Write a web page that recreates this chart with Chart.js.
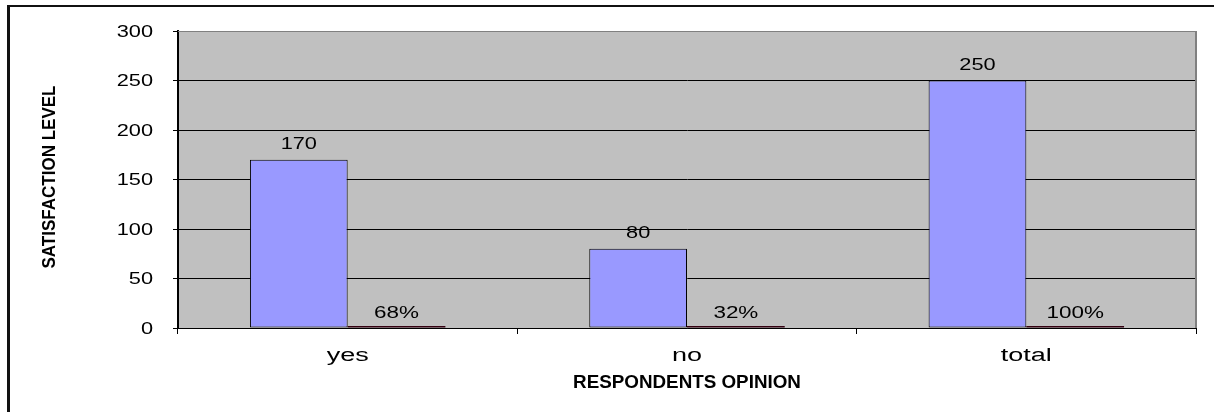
<!DOCTYPE html>
<html>
<head>
<meta charset="utf-8">
<script src="https://cdn.jsdelivr.net/npm/chart.js@4"></script>
<style>
  html, body { margin: 0; padding: 0; background: #fff; }
  #frame { position: absolute; left: 7px; top: 5px; width: 1220px; height: 420px;
           border-top: 2px solid #111; border-left: 3px solid #111; }
  #chart { position: absolute; left: 0; top: 0; }
</style>
</head>
<body>
<div id="frame"></div>
<canvas id="chart" width="1214" height="412"></canvas>
<script>
/* ========= DATA ========= */
const categories = ['yes', 'no', 'total'];
const respondents = [170, 80, 250];
const shares = [0.68, 0.32, 1.00];          // drawn on same axis, shown as %
const yTicks = [0, 50, 100, 150, 200, 250, 300];
const xTitle = 'RESPONDENTS OPINION';
const yTitle = 'SATISFACTION LEVEL';

/* ========= HELPERS ========= */
const FONT = '"Liberation Sans", Arial, sans-serif';
const pct = v => Math.round(v * 100) + '%';

// Excel-ish wide text: draw then stretch horizontally
function wideText(ctx, txt, x, y, font, sx, align) {
  ctx.save();
  ctx.font = font;
  ctx.fillStyle = '#000';
  ctx.textBaseline = 'middle';
  ctx.textAlign = align || 'center';
  ctx.translate(x, y);
  ctx.scale(sx, 1);
  ctx.fillText(txt, 0, 0);
  ctx.restore();
}

/* ========= PLUGINS ========= */
const plotBg = {
  id: 'plotBg',
  beforeDraw(chart) {
    const { ctx, chartArea: a } = chart;
    ctx.save();
    ctx.fillStyle = '#C0C0C0';
    ctx.fillRect(a.left, a.top, a.right - a.left, a.bottom - a.top);
    ctx.restore();
  },
  afterDatasetsDraw(chart) {
    const { ctx, chartArea: a } = chart;
    ctx.save();
    ctx.strokeStyle = '#808080';
    ctx.lineWidth = 1;
    ctx.beginPath();
    ctx.moveTo(a.left, a.top + 0.5);
    ctx.lineTo(a.right, a.top + 0.5);
    ctx.stroke();
    ctx.lineWidth = 2;
    ctx.beginPath();
    ctx.moveTo(a.right, a.top);
    ctx.lineTo(a.right, a.bottom);
    ctx.stroke();
    ctx.restore();
  }
};

const labels = {
  id: 'labels',
  afterDraw(chart) {
    const { ctx, chartArea: a, scales } = chart;
    const regular = '17px ' + FONT;

    // y tick labels
    yTicks.forEach(v => {
      wideText(ctx, String(v), 153, scales.y.getPixelForValue(v) + 1, regular, 1.28, 'right');
    });

    // category labels
    categories.forEach((c, i) => {
      wideText(ctx, c, scales.x.getPixelForValue(i), 356, '18px ' + FONT, 1.5, 'center');
    });

    // value labels above bars
    chart.getDatasetMeta(0).data.forEach((el, i) => {
      wideText(ctx, String(respondents[i]), el.x, el.y - 15, regular, 1.28, 'center');
    });
    chart.getDatasetMeta(1).data.forEach((el, i) => {
      wideText(ctx, pct(shares[i]), el.x, el.y - 13, regular, 1.32, 'center');
    });

    // x title
    wideText(ctx, xTitle, (a.left + a.right) / 2, 383, 'bold 19px ' + FONT, 0.99, 'center');

    // y title, squeezed along its length
    ctx.save();
    ctx.font = 'bold 22px ' + FONT;
    const w = ctx.measureText(yTitle).width;
    ctx.translate(50, 177);
    ctx.rotate(-Math.PI / 2);
    ctx.scale(183 / w, 0.85);
    ctx.fillStyle = '#000';
    ctx.textAlign = 'center';
    ctx.textBaseline = 'middle';
    ctx.fillText(yTitle, 0, 0);
    ctx.restore();
  }
};

/* ========= CHART ========= */
new Chart(document.getElementById('chart').getContext('2d'), {
  type: 'bar',
  data: {
    labels: categories,
    datasets: [
      {
        data: respondents,
        backgroundColor: '#9999FF',
        borderColor: '#000',
        borderWidth: 1,
        borderSkipped: false
      },
      {
        data: shares,
        backgroundColor: '#330011',
        borderColor: '#000',
        borderWidth: 0,
        minBarLength: 2
      }
    ]
  },
  options: {
    responsive: false,
    animation: false,
    layout: { padding: { top: 31, right: 18, left: 0, bottom: 0 } },
    plugins: { legend: { display: false }, tooltip: { enabled: false } },
    datasets: { bar: { categoryPercentage: 0.576, barPercentage: 1 } },
    scales: {
      x: {
        afterFit: s => { s.height = 84; },
        ticks: { display: false },
        grid: { drawOnChartArea: false, drawTicks: true, tickLength: 6, color: '#000', offset: true },
        border: { color: '#000', width: 1 }
      },
      y: {
        min: 0,
        max: 300,
        afterFit: s => { s.width = 178; },
        ticks: { display: false, stepSize: 50 },
        grid: { color: '#000', tickLength: 5, drawTicks: true },
        border: { color: '#000', width: 2 }
      }
    }
  },
  plugins: [plotBg, labels]
});
</script>
</body>
</html>
